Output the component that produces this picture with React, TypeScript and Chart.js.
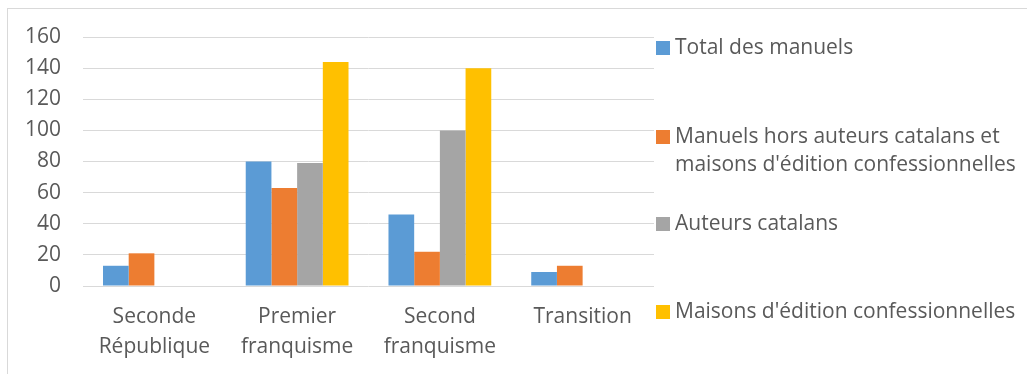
import React, { useEffect, useRef } from "react";
import { Chart, registerables } from "chart.js";

Chart.register(...registerables);

const categories: string[][] = [
  ["Seconde", "République"],
  ["Premier", "franquisme"],
  ["Second", "franquisme"],
  ["Transition"],
];

const seriesNames: string[][] = [
  ["Total des manuels"],
  ["Manuels hors auteurs catalans et", "maisons d'édition confessionnelles"],
  ["Auteurs catalans"],
  ["Maisons d'édition confessionnelles"],
];

const totalManuels = [13, 80, 46, 9];
const horsCatalansConfessionnelles = [21, 63, 22, 13];
const auteursCatalans = [0, 79, 100, 0];
const maisonsConfessionnelles = [0, 144, 140, 0];

const seriesColors = ["#5B9BD5", "#ED7D31", "#A5A5A5", "#FFC000"];
const yTicks = [0, 20, 40, 60, 80, 100, 120, 140, 160];

const FONT = "'Open Sans', sans-serif";
const TEXT = "#595959";
const FS = 21;

// legend layout (relative offsets)
const legendItemTops = [48, 137, 224, 312];

const legendPlugin = {
  id: "sideLegend",
  afterDraw(chart: any) {
    const ctx = chart.ctx;
    const x0 = chart.chartArea.right + 2;
    ctx.save();
    ctx.font = `${FS}px ${FONT}`;
    ctx.textBaseline = "middle";
    ctx.textAlign = "left";
    seriesNames.forEach((lines, i) => {
      const y = legendItemTops[i];
      ctx.fillStyle = seriesColors[i];
      ctx.fillRect(x0, y - 7, 14, 14);
      ctx.fillStyle = TEXT;
      lines.forEach((ln, j) => {
        ctx.fillText(ln, x0 + 19, y + j * 28);
      });
    });
    ctx.restore();
  },
};

export default function App() {
  const ref = useRef<HTMLCanvasElement | null>(null);

  useEffect(() => {
    if (!ref.current) return;
    const data = [totalManuels, horsCatalansConfessionnelles, auteursCatalans, maisonsConfessionnelles];
    const chart = new Chart(ref.current, {
      type: "bar",
      data: {
        labels: categories,
        datasets: data.map((d, i) => ({
          label: seriesNames[i].join(" "),
          data: d,
          backgroundColor: seriesColors[i],
          borderWidth: 0,
          categoryPercentage: 0.72,
          barPercentage: 1,
        })),
      },
      options: {
        responsive: false,
        animation: false,
        layout: { padding: { left: 0, top: 37, right: 373, bottom: 0 } },
        plugins: {
          legend: { display: false },
          tooltip: { enabled: false },
        },
        scales: {
          x: {
            grid: { display: false, drawTicks: false },
            border: { display: false },
            ticks: {
              color: TEXT,
              font: { family: FONT, size: FS, lineHeight: "30px" } as any,
              padding: 16,
              maxRotation: 0,
              autoSkip: false,
            },
            afterFit: (s: any) => {
              s.height = 374 - 286;
            },
          },
          y: {
            min: 0,
            max: 160,
            afterBuildTicks: (s: any) => {
              s.ticks = yTicks.map((v) => ({ value: v }));
            },
            grid: { color: "#D9D9D9", lineWidth: 1, drawTicks: false },
            border: { display: false },
            ticks: {
              color: TEXT,
              font: { family: FONT, size: FS },
              padding: 22,
            },
            afterFit: (s: any) => {
              s.width = 83;
            },
          },
        },
      },
      plugins: [legendPlugin],
    });
    return () => chart.destroy();
  }, []);

  return (
    <div
      style={{
        position: "fixed",
        left: 0,
        top: 0,
        width: 1027,
        height: 374,
        overflow: "hidden",
        background: "#fff",
      }}
    >
      <div
        style={{
          position: "absolute",
          left: 7,
          top: 8,
          width: 1040,
          height: 400,
          border: "1px solid #D9D9D9",
          boxSizing: "border-box",
        }}
      />
      <canvas ref={ref} width={1027} height={374} style={{ position: "absolute", left: 0, top: 0 }} />
    </div>
  );
}
